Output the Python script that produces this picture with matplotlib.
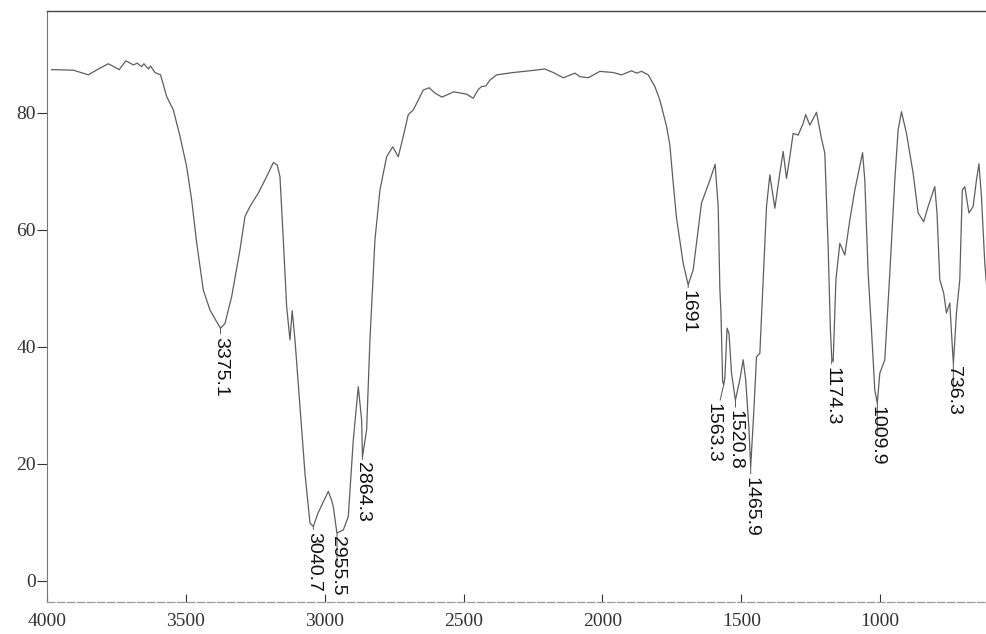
import matplotlib
matplotlib.use("Agg")
import matplotlib.pyplot as plt

# IR spectrum (wavenumber in cm-1, transmittance in %)
wavenumber = [
    3983, 3905, 3851, 3815, 3779, 3740, 3716, 3689, 3675, 3659, 3651, 3635,
    3627, 3611, 3591, 3569, 3545, 3521, 3497, 3479, 3461, 3437, 3413, 3389,
    3375, 3359, 3335, 3305, 3287, 3269, 3239, 3209, 3185, 3171, 3161, 3149,
    3137, 3125, 3117, 3107, 3089, 3071, 3053, 3041, 3024, 2987, 2975, 2969,
    2956, 2933, 2915, 2897, 2879, 2867, 2864, 2849, 2837, 2819, 2801, 2777,
    2755, 2735, 2717, 2699, 2681, 2663, 2645, 2624, 2603, 2578, 2535, 2489,
    2465, 2447, 2435, 2420, 2405, 2381, 2321, 2261, 2207, 2177, 2141, 2099,
    2081, 2051, 2009, 1961, 1931, 1895, 1877, 1859, 1835, 1811, 1793, 1769,
    1757, 1745, 1733, 1709, 1691, 1673, 1643, 1613, 1594, 1583, 1577, 1573,
    1567, 1563, 1559, 1551, 1544, 1535, 1521, 1505, 1493, 1484, 1472, 1466,
    1455, 1445, 1433, 1421, 1409, 1397, 1379, 1361, 1349, 1337, 1325, 1313,
    1295, 1277, 1268, 1253, 1229, 1211, 1199, 1187, 1179, 1174, 1169, 1159,
    1145, 1127, 1109, 1091, 1063, 1055, 1043, 1031, 1019, 1010, 1001, 983,
    965, 947, 935, 923, 905, 881, 863, 843, 827, 803, 795, 785,
    771, 761, 749, 740, 736, 725, 713, 704, 695, 680, 665, 653,
    644, 635, 623, 615,
]
transmittance = [
    87.4, 87.3, 86.5, 87.5, 88.4, 87.4, 88.9, 88.2, 88.5, 87.9, 88.4, 87.5,
    88.0, 86.9, 86.5, 82.8, 80.5, 76.0, 70.8, 65.1, 57.8, 49.7, 46.3, 44.3,
    43.2, 44.0, 48.6, 56.6, 62.3, 64.0, 66.3, 69.1, 71.5, 71.1, 69.1, 58.3,
    46.9, 41.2, 46.2, 41.2, 29.8, 18.4, 9.9, 9.3, 11.6, 15.3, 13.8, 12.7,
    8.2, 8.7, 11.0, 24.1, 33.2, 27.5, 21.2, 25.8, 41.2, 58.3, 66.8, 72.5,
    74.2, 72.5, 76.0, 79.7, 80.5, 82.2, 83.9, 84.3, 83.4, 82.7, 83.6, 83.2,
    82.5, 84.0, 84.5, 84.6, 85.6, 86.5, 86.9, 87.2, 87.5, 86.9, 86.0, 86.8,
    86.2, 86.0, 87.1, 86.9, 86.5, 87.2, 86.8, 87.1, 86.5, 84.5, 82.2, 77.7,
    74.5, 68.0, 62.0, 54.3, 50.6, 53.2, 64.6, 68.5, 71.2, 64.0, 50.0, 45.8,
    34.1, 33.5, 34.7, 43.2, 42.3, 35.5, 30.9, 34.4, 37.8, 34.4, 25.8, 19.5,
    28.7, 38.3, 38.9, 51.5, 64.0, 69.4, 63.7, 69.7, 73.4, 68.8, 72.5, 76.5,
    76.2, 78.2, 79.7, 77.9, 80.1, 75.6, 73.1, 57.1, 43.0, 38.0, 37.5, 51.5,
    57.7, 55.7, 61.7, 66.8, 73.2, 68.5, 52.6, 42.9, 32.6, 30.4, 35.5, 37.8,
    52.6, 68.5, 77.1, 80.2, 76.5, 69.7, 62.9, 61.4, 64.0, 67.4, 62.9, 51.5,
    49.2, 45.8, 47.5, 40.1, 37.2, 45.8, 51.5, 66.8, 67.4, 62.9, 64.0, 68.5,
    71.3, 65.7, 54.3, 49.7,
]

# labelled peaks
peak_labels = ["3375.1", "3040.7", "2955.5", "2864.3", "1691", "1563.3",
               "1520.8", "1465.9", "1174.3", "1009.9", "736.3"]
peak_wn = [3375.1, 3040.7, 2955.5, 2864.3, 1691, 1563.3,
           1520.8, 1465.9, 1174.3, 1009.9, 736.3]
peak_t = [43.2, 9.3, 8.2, 21.2, 50.6, 33.5, 30.9, 19.5, 37.8, 30.4, 37.2]

x_ticks = [4000, 3500, 3000, 2500, 2000, 1500, 1000]
y_ticks = [0, 20, 40, 60, 80]

# label offsets in points (leader length)
label_offsets = [(0, -6), (0, -4), (0, -2), (0, -4), (0, -4), (-8, -13),
                 (0, -7), (0, -7), (0, -5), (0, -2), (0, -2)]

fig = plt.figure(figsize=(9.87, 6.34), dpi=100)
ax = fig.add_axes([0.0476, 0.0505, 0.9524, 0.932])

ax.plot(wavenumber, transmittance, color="#5e5e5e", lw=0.9)

for lab, wn, t, (dx, dy) in zip(peak_labels, peak_wn, peak_t, label_offsets):
    ax.annotate(lab, xy=(wn, t), xytext=(dx, dy), textcoords="offset points",
                rotation=-90, ha="center", va="top", fontsize=14,
                family="Liberation Sans", color="#111111",
                arrowprops=dict(arrowstyle="-", color="#555555", lw=0.7,
                                shrinkA=0, shrinkB=0))

ax.set_xlim(4000, 615)
ax.set_ylim(-3.6, 97.4)
ax.set_xticks(x_ticks)
ax.set_yticks(y_ticks)
ax.set_xticklabels([str(v) for v in x_ticks], family="Liberation Serif", fontsize=14)
ax.set_yticklabels([str(v) for v in y_ticks], family="Liberation Serif", fontsize=14)
ax.tick_params(axis="y", direction="out", length=7, width=0.8, pad=1, colors="#333333")
ax.tick_params(axis="x", direction="in", length=6, width=0.8, pad=8, colors="#333333")

ax.spines["right"].set_visible(False)
ax.spines["top"].set_color("#444444")
ax.spines["top"].set_linewidth(1.0)
ax.spines["left"].set_color("#777777")
ax.spines["left"].set_linewidth(0.8)
ax.spines["bottom"].set_color("#999999")
ax.spines["bottom"].set_linewidth(0.9)
ax.spines["bottom"].set_linestyle((0, (6, 2)))

fig.savefig("out.png", dpi=100)
